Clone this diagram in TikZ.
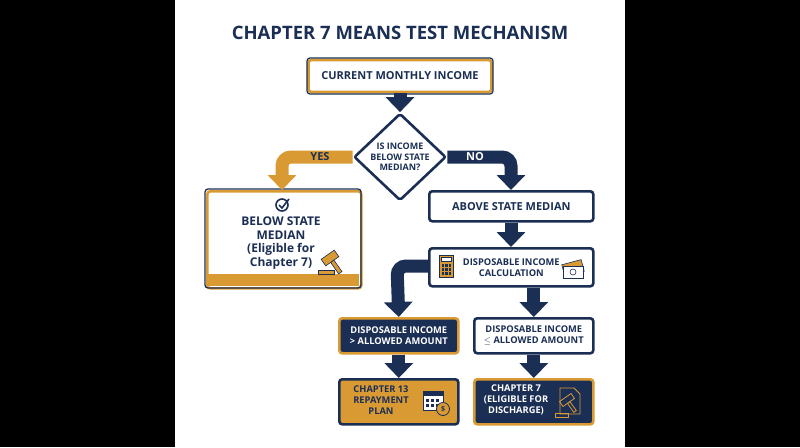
\documentclass[tikz,border=0pt]{standalone}
\usepackage{fontspec}
\setmainfont{Open Sans}
\usetikzlibrary{arrows.meta,shapes.geometric,calc}
\definecolor{navy}{HTML}{1B2F55}
\definecolor{gold}{HTML}{D99A33}
\begin{document}
\begin{tikzpicture}[x=1pt,y=-1pt,
  box/.style={draw=navy,line width=2.6pt,rounded corners=3pt,align=center,font=\bfseries\fontsize{11}{13}\selectfont,text=navy,fill=white,inner sep=0pt},
  sm/.style={font=\bfseries\fontsize{9.3}{11}\selectfont},
  band/.style={line width=13pt,rounded corners=9pt,-{Triangle[width=28pt,length=15pt]}},
  nav/.style={band,draw=navy},
  gol/.style={band,draw=gold}]
\useasboundingbox (0,0) rectangle (800,447);
\fill[black] (0,0) rectangle (800,447);
\fill[white] (175,0) rectangle (625,447);
\node[font=\bfseries\fontsize{18.5}{20}\selectfont,text=navy] (title) at (400,33) {CHAPTER 7 MEANS TEST MECHANISM};
% boxes
\node[box,draw=gold,minimum width=183,minimum height=32] (cur) at (400,76) {CURRENT MONTHLY INCOME};
\draw[navy,line width=1.2pt,rounded corners=3pt] (307,58) rectangle (493,94);
\node[box,diamond,minimum width=92,minimum height=80,rounded corners=2pt,font=\bfseries\fontsize{9}{10.5}\selectfont] (dia) at (400,157) {IS INCOME\\BELOW STATE\\MEDIAN?};
\node[box,minimum width=154,minimum height=97,anchor=north west,draw=gold] (bel) at (206,190) {};
\fill[gold] (207,274) rectangle (359,286);
\draw[navy,line width=1.3pt,rounded corners=3pt] (205,189) rectangle (361,288);
\node[font=\bfseries\fontsize{12}{13.5}\selectfont,text=navy,align=center] (beltxt) at (281,243) {BELOW STATE\\MEDIAN\\(Eligible for\\Chapter 7)};
\node[box,minimum width=164,minimum height=30,anchor=north west] (abv) at (428,190) {ABOVE STATE MEDIAN};
\node[box,minimum width=164,minimum height=38,anchor=north west,sm] (dic) at (428,247) {DISPOSABLE INCOME\\CALCULATION};
\node[box,minimum width=119,minimum height=35,anchor=north west,fill=navy,draw=gold,text=white,sm] (gt) at (338,317) {DISPOSABLE INCOME\\> ALLOWED AMOUNT};
\node[box,minimum width=119,minimum height=35,anchor=north west,sm] (le) at (473,317) {DISPOSABLE INCOME\\$\leq$ ALLOWED AMOUNT};
\node[box,minimum width=119,minimum height=45,anchor=north west,fill=gold] (c13) at (338,378) {};
\node[sm,text=navy,align=center] (c13t) at (381,400) {CHAPTER 13\\REPAYMENT\\PLAN};
\node[box,minimum width=119,minimum height=45,anchor=north west,fill=navy,draw=gold] (c7) at (473,378) {};
\node[sm,text=white,align=center] (c7t) at (516,400) {CHAPTER 7\\(ELIGIBLE FOR\\DISCHARGE)};
% connectors
\coordinate (yc) at (282,157); \coordinate (nc) at (511,157);
\draw[nav] (cur.south) -- (dia.north);
\draw[gol] (dia.west) -- (yc) -- (bel.north -| yc);
\draw[nav] (dia.east) -- (nc) -- (abv.north -| nc);
\node[font=\bfseries\fontsize{11}{12}\selectfont,text=navy] (yes) at (320,157) {YES};
\node[font=\bfseries\fontsize{11}{12}\selectfont,text=white] (no) at (475,157) {NO};
\draw[nav] (abv.south -| nc) -- (dic.north -| nc);
\coordinate (lc) at (397,266);
\draw[nav] (dic.west |- lc) -- (lc) -- (gt.north);
\draw[nav] (dic.south -| le.north) -- (le.north);
\draw[nav] (gt.south) -- (c13.north);
\draw[nav] (le.south) -- (c7.north);
% icons
\draw[navy,line width=1.6pt] (282,205) circle (6);
\draw[navy,line width=1.6pt] (279,205) -- (282,208) -- (289,199);
\begin{scope}[shift={(330,258)},rotate=35]
\fill[gold,draw=navy,line width=0.6pt] (-8,-4) rectangle (8,4);
\fill[gold,draw=navy,line width=0.6pt] (-2,4) rectangle (2,18);
\end{scope}
\fill[gold,draw=navy,line width=0.6pt] (318,270) rectangle (334,274);
\fill[gold,draw=navy,line width=0.6pt] (439,255) rectangle (453,277);
\fill[white,draw=navy,line width=0.5pt] (441,257) rectangle (451,261);
\foreach \i in {0,1,2} \foreach \j in {0,1,2} \fill[navy] (441.5+\i*3.5,264+\j*4) rectangle +(2.5,2.5);
\fill[gold,draw=navy,line width=0.6pt,rotate around={15:(573,268)}] (563,262) rectangle (583,274);
\fill[white,draw=navy,line width=0.6pt] (563,266) rectangle (583,278);
\draw[navy,line width=0.6pt] (573,272) circle (3);
\fill[white,draw=navy,line width=0.8pt] (423,391) rectangle (443,410);
\fill[navy] (423,391) rectangle (443,396);
\foreach \i in {0,1,2} \foreach \j in {0,1} \fill[navy] (426+\i*5,399+\j*5) rectangle +(3,3);
\fill[gold,draw=navy,line width=0.8pt] (443,409) circle (6.5);
\node[font=\bfseries\fontsize{7}{7}\selectfont,text=navy] (dol) at (443,409) {\$};
\draw[gold,line width=0.8pt] (560,388) -- (574,388) -- (580,394) -- (580,414) -- (560,414) -- cycle;
\begin{scope}[shift={(567,400)},rotate=35]
\draw[gold,line width=0.8pt] (-7,-3) rectangle (7,3);
\draw[gold,line width=0.8pt] (-1.5,3) rectangle (1.5,14);
\end{scope}
\draw[gold,line width=0.8pt] (555,413) rectangle (568,417);
\end{tikzpicture}
\end{document}
